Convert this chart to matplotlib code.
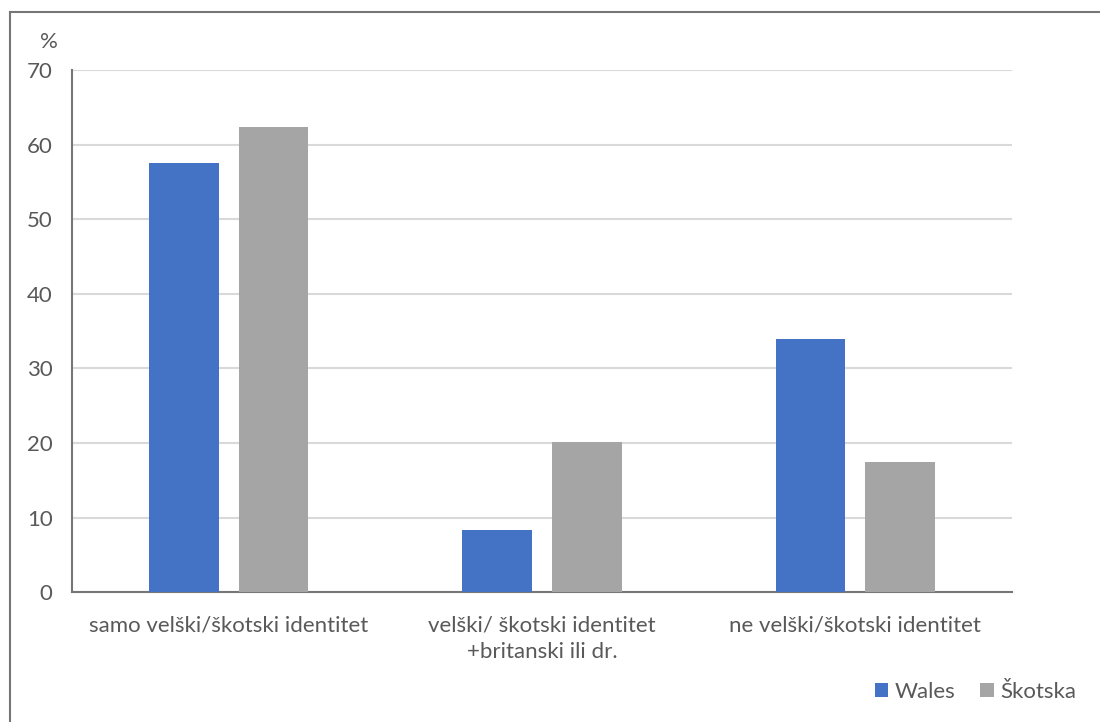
import matplotlib
matplotlib.use("Agg")
import matplotlib.pyplot as plt
import numpy as np
from matplotlib.lines import Line2D

# Data
categories = ["samo velški/škotski identitet",
              "velški/ škotski identitet\n+britanski ili dr.",
              "ne velški/škotski identitet"]
wales = [57.5, 8.4, 34.0]
skotska = [62.3, 20.1, 17.4]
series_names = ["Wales", "Škotska"]
yticks = [0, 10, 20, 30, 40, 50, 60, 70]

text_color = "#595959"
fs = 16
plt.rcParams['font.family'] = ['Lato', 'DejaVu Sans']

fig = plt.figure(figsize=(11, 7.22), dpi=100)
ax = fig.add_axes([0.0655, 0.1797, 0.8545, 0.7233])

x = np.arange(len(categories))
width = 0.223
offset = 0.143
ax.bar(x - offset, wales, width, color="#4472C4", label=series_names[0], zorder=3)
ax.bar(x + offset, skotska, width, color="#A5A5A5", label=series_names[1], zorder=3)

ax.set_xlim(-0.5, len(categories) - 0.5)
ax.set_ylim(0, 70)
ax.set_yticks(yticks)
ax.set_xticks(x)
ax.set_xticklabels(categories, fontsize=fs, color=text_color, linespacing=1.4)
ax.tick_params(axis='y', length=0, pad=14, labelsize=fs, labelcolor=text_color)
ax.tick_params(axis='x', length=0, pad=17)
ax.grid(axis='y', color="#D9D9D9", linewidth=1.5, zorder=0)

for side in ["top", "right"]:
    ax.spines[side].set_visible(False)
for side in ["left", "bottom"]:
    ax.spines[side].set_color("#767676")
    ax.spines[side].set_linewidth(1.5)

fig.text(0.036, 0.942, "%", fontsize=fs, color=text_color, ha='left', va='center')

leg = fig.legend(loc='center', bbox_to_anchor=(0.887, 0.042), ncol=2, frameon=False,
                 fontsize=fs, handlelength=0.6, handleheight=0.6, handletextpad=0.3,
                 columnspacing=1.1)
for t in leg.get_texts():
    t.set_color(text_color)

# outer frame (left and top edges visible in the reference)
fig.add_artist(Line2D([0.0095, 0.0095], [0, 0.9835], transform=fig.transFigure,
                      color="#767676", linewidth=1.5))
fig.add_artist(Line2D([0.0095, 1.0], [0.9835, 0.9835], transform=fig.transFigure,
                      color="#767676", linewidth=1.5))

fig.savefig("out.png", dpi=100)
